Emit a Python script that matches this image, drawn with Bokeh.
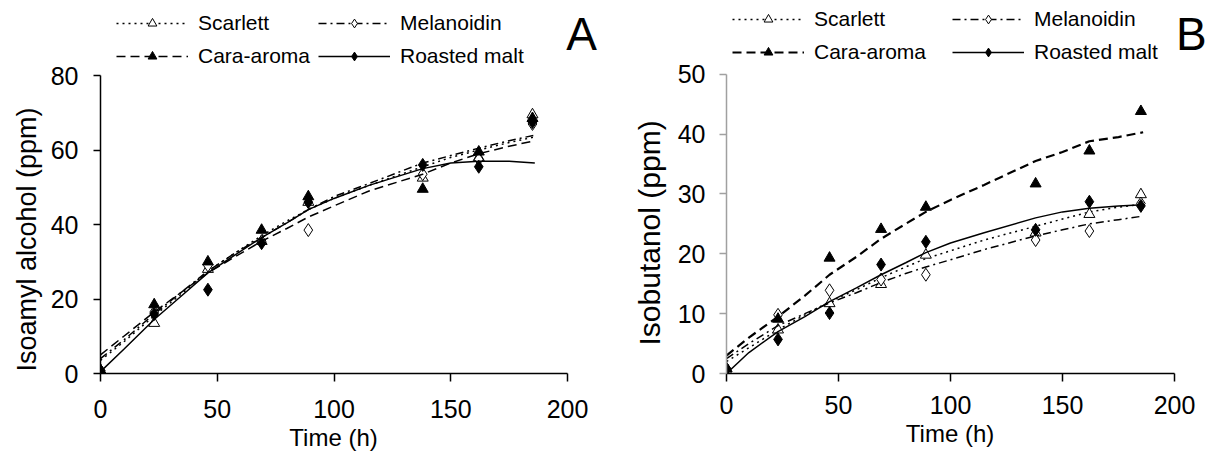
from bokeh.plotting import figure
from bokeh.models import Legend, LegendItem, Label, FixedTicker, Range1d, Title
from bokeh.layouts import row
from bokeh.embed import file_html
from bokeh.resources import INLINE

# ---------------- data ----------------
series = ["Scarlett", "Melanoidin", "Cara-aroma", "Roasted malt"]
time_h = [0, 23, 46, 69, 89, 138, 162, 185]
curve_t = [0, 10, 23, 35, 46, 58, 69, 80, 89, 100, 115, 138, 150, 162, 175, 186]

# Panel A: isoamyl alcohol (ppm) - measured points
a_scarlett = [0.8, 13.5, 28.0, 35.5, 46.0, 52.5, 58.0, 69.5]
a_melanoidin = [0.8, 16.5, 29.0, 35.5, 38.5, 53.5, 57.5, 67.0]
a_cara = [0.8, 18.5, 30.0, 38.5, 47.5, 49.5, 59.5, 68.5]
a_roasted = [0.8, 16.0, 22.5, 35.0, 46.0, 56.0, 55.5, 67.5]
# Panel A: fitted curves
a_scarlett_fit = [3.5, 8.5, 15.5, 21.5, 27.5, 32.5, 37.0, 41.0, 44.0, 47.0, 50.5, 55.5, 58.0, 60.0, 62.0, 63.5]
a_melanoidin_fit = [4.0, 9.0, 16.0, 22.0, 27.5, 32.5, 36.5, 40.5, 44.0, 47.5, 51.0, 56.5, 58.5, 60.5, 62.5, 64.0]
a_cara_fit = [5.0, 10.0, 16.5, 22.0, 27.0, 31.5, 35.5, 39.0, 42.0, 45.0, 49.0, 53.5, 56.5, 59.0, 61.0, 62.5]
a_roasted_fit = [0.5, 6.5, 14.5, 21.0, 27.0, 32.0, 36.5, 40.5, 44.0, 47.0, 50.5, 55.0, 56.5, 57.0, 57.0, 56.5]

# Panel B: isobutanol (ppm) - measured points
b_scarlett = [0.8, 7.3, 11.7, 14.9, 19.8, 23.5, 26.6, 29.9]
b_melanoidin = [0.8, 9.8, 13.9, 15.7, 16.5, 22.3, 23.8, 28.4]
b_cara = [0.8, 9.1, 19.3, 24.1, 27.8, 31.7, 37.2, 43.8]
b_roasted = [0.8, 5.7, 10.1, 18.2, 22.0, 24.0, 28.7, 28.0]
# Panel B: fitted curves
b_scarlett_fit = [2.0, 4.3, 7.3, 9.8, 12.0, 14.0, 16.0, 17.8, 19.2, 20.5, 22.3, 24.6, 25.8, 27.0, 27.8, 28.3]
b_melanoidin_fit = [2.5, 5.0, 8.0, 10.0, 11.8, 13.5, 15.2, 16.7, 17.8, 19.0, 20.7, 23.0, 24.0, 25.0, 25.7, 26.3]
b_cara_fit = [3.0, 6.0, 9.5, 13.0, 16.5, 19.5, 22.5, 25.0, 27.0, 29.0, 31.5, 35.5, 37.0, 38.8, 39.5, 40.3]
b_roasted_fit = [0.0, 3.5, 7.0, 9.5, 12.0, 14.3, 16.5, 18.5, 20.2, 21.8, 23.5, 26.0, 27.0, 27.6, 28.0, 28.2]

x_ticks = [0, 50, 100, 150, 200]
a_y_ticks = [0, 20, 40, 60, 80]
b_y_ticks = [0, 10, 20, 30, 40, 50]

# ---------------- styles ----------------
FONT = "Liberation Sans"
style = {
    "Scarlett": dict(dash="2 4", marker="triangle", fill="white", size=11),
    "Melanoidin": dict(dash="8 4 2 4", marker="diamond", fill="white", size=13),
    "Cara-aroma": dict(dash="9 5", marker="triangle", fill="black", size=11),
    "Roasted malt": dict(dash="solid", marker="diamond", fill="black", size=13),
}

FIG_H = 457
XLABEL_PX = 24
XLABEL_W = 3.722 * XLABEL_PX  # advance width of "Time (h)" in Liberation Sans


def make_panel(pts, fits, y_ticks, y_max, y_label, y_label_size, y_label_offset,
               y_label_standoff, letter, letter_xy, width, border_left, border_bottom,
               axis_px_x, axis_px_y, yaxis_color, legend_x, legend_y, col2_x,
               cara_width, tick_standoff, ytick_standoff):
    frame_w = width - border_left
    frame_h = FIG_H - border_bottom
    # the frame reaches the top and right edges so that the legend and the
    # panel letter (drawn in the frame) are not clipped; axes stop at their bounds
    x_end = 200 * frame_w / axis_px_x
    y_end = y_max * frame_h / axis_px_y
    p = figure(width=width, height=FIG_H, output_backend="svg", toolbar_location=None,
               title=None,
               x_range=Range1d(0, x_end), y_range=Range1d(0, y_end),
               min_border_left=border_left, min_border_right=0,
               min_border_top=0, min_border_bottom=border_bottom)
    p.outline_line_color = None
    p.grid.visible = False
    p.background_fill_color = "white"
    p.border_fill_color = "white"

    p.xaxis.bounds = (0, 200)
    p.yaxis.bounds = (0, y_max)
    p.xaxis.ticker = FixedTicker(ticks=x_ticks)
    p.yaxis.ticker = FixedTicker(ticks=y_ticks)
    p.xaxis.minor_tick_line_color = None
    p.yaxis.minor_tick_line_color = None
    for ax in (p.xaxis[0], p.yaxis[0]):
        ax.major_label_text_font = FONT
        ax.major_label_text_font_size = "25px"
        ax.major_label_text_color = "black"
        ax.major_tick_in = 0
        ax.axis_line_width = 1.5
        ax.major_tick_line_width = 1.5
    p.xaxis.major_tick_out = 8
    p.yaxis.major_tick_out = 7
    p.xaxis.axis_line_color = "black"
    p.xaxis.major_tick_line_color = "black"
    p.yaxis.axis_line_color = yaxis_color
    p.yaxis.major_tick_line_color = yaxis_color
    p.xaxis.major_label_standoff = tick_standoff
    p.yaxis.major_label_standoff = ytick_standoff

    # axis titles as Titles so that they sit centred on the axis (not the frame)
    p.add_layout(Title(text=y_label, align="left", offset=y_label_offset,
                       text_font=FONT, text_font_size=y_label_size,
                       text_font_style="normal", text_color="black",
                       standoff=y_label_standoff), "left")
    p.add_layout(Title(text="Time (h)", align="left",
                       offset=axis_px_x / 2 - XLABEL_W / 2,
                       text_font=FONT, text_font_size=f"{XLABEL_PX}px",
                       text_font_style="normal", text_color="black",
                       standoff=2), "below")

    items = {}
    for name, yv, fv in zip(series, pts, fits):
        st = style[name]
        lw = cara_width if name == "Cara-aroma" else 1.5
        ln = p.line(curve_t, fv, line_color="black", line_width=lw, line_dash=st["dash"])
        sc = p.scatter(time_h, yv, marker=st["marker"], size=st["size"],
                       fill_color=st["fill"], line_color="black", line_width=1)
        items[name] = [ln, sc]

    def mk_legend(names, x):
        lg = Legend(items=[LegendItem(label=n, renderers=items[n]) for n in names],
                    location=(x, legend_y), orientation="vertical",
                    glyph_width=72, glyph_height=22, label_height=22,
                    label_standoff=10, spacing=9, padding=0, margin=0,
                    border_line_color=None, background_fill_alpha=0,
                    label_text_font=FONT, label_text_font_size="21px",
                    label_text_color="black")
        p.add_layout(lg, "center")

    mk_legend(["Scarlett", "Cara-aroma"], legend_x)
    mk_legend(["Melanoidin", "Roasted malt"], col2_x)

    p.add_layout(Label(x=letter_xy[0], y=letter_xy[1], text=letter,
                       text_font=FONT, text_font_size="46px", text_color="black",
                       text_align="center", text_baseline="middle"))
    return p


pA = make_panel([a_scarlett, a_melanoidin, a_cara, a_roasted],
                [a_scarlett_fit, a_melanoidin_fit, a_cara_fit, a_roasted_fit],
                a_y_ticks, 80, "Isoamyl alcohol (ppm)", "27px", 2, 12, "A", (206.0, 91.2),
                610, 100, 84, 467, 298, "black", 16, 305, 218, 1.5, 18, 15)
pB = make_panel([b_scarlett, b_melanoidin, b_cara, b_roasted],
                [b_scarlett_fit, b_melanoidin_fit, b_cara_fit, b_roasted_fit],
                b_y_ticks, 50, "Isobutanol (ppm)", "30px", 28, 17, "B", (207.5, 56.8),
                600, 116, 80, 448, 302.5, "#a0a0a0", 6, 309, 226, 2.2, 14, 14)

layout = row(pA, pB)
open("out.html", "w").write(file_html(layout, INLINE))
